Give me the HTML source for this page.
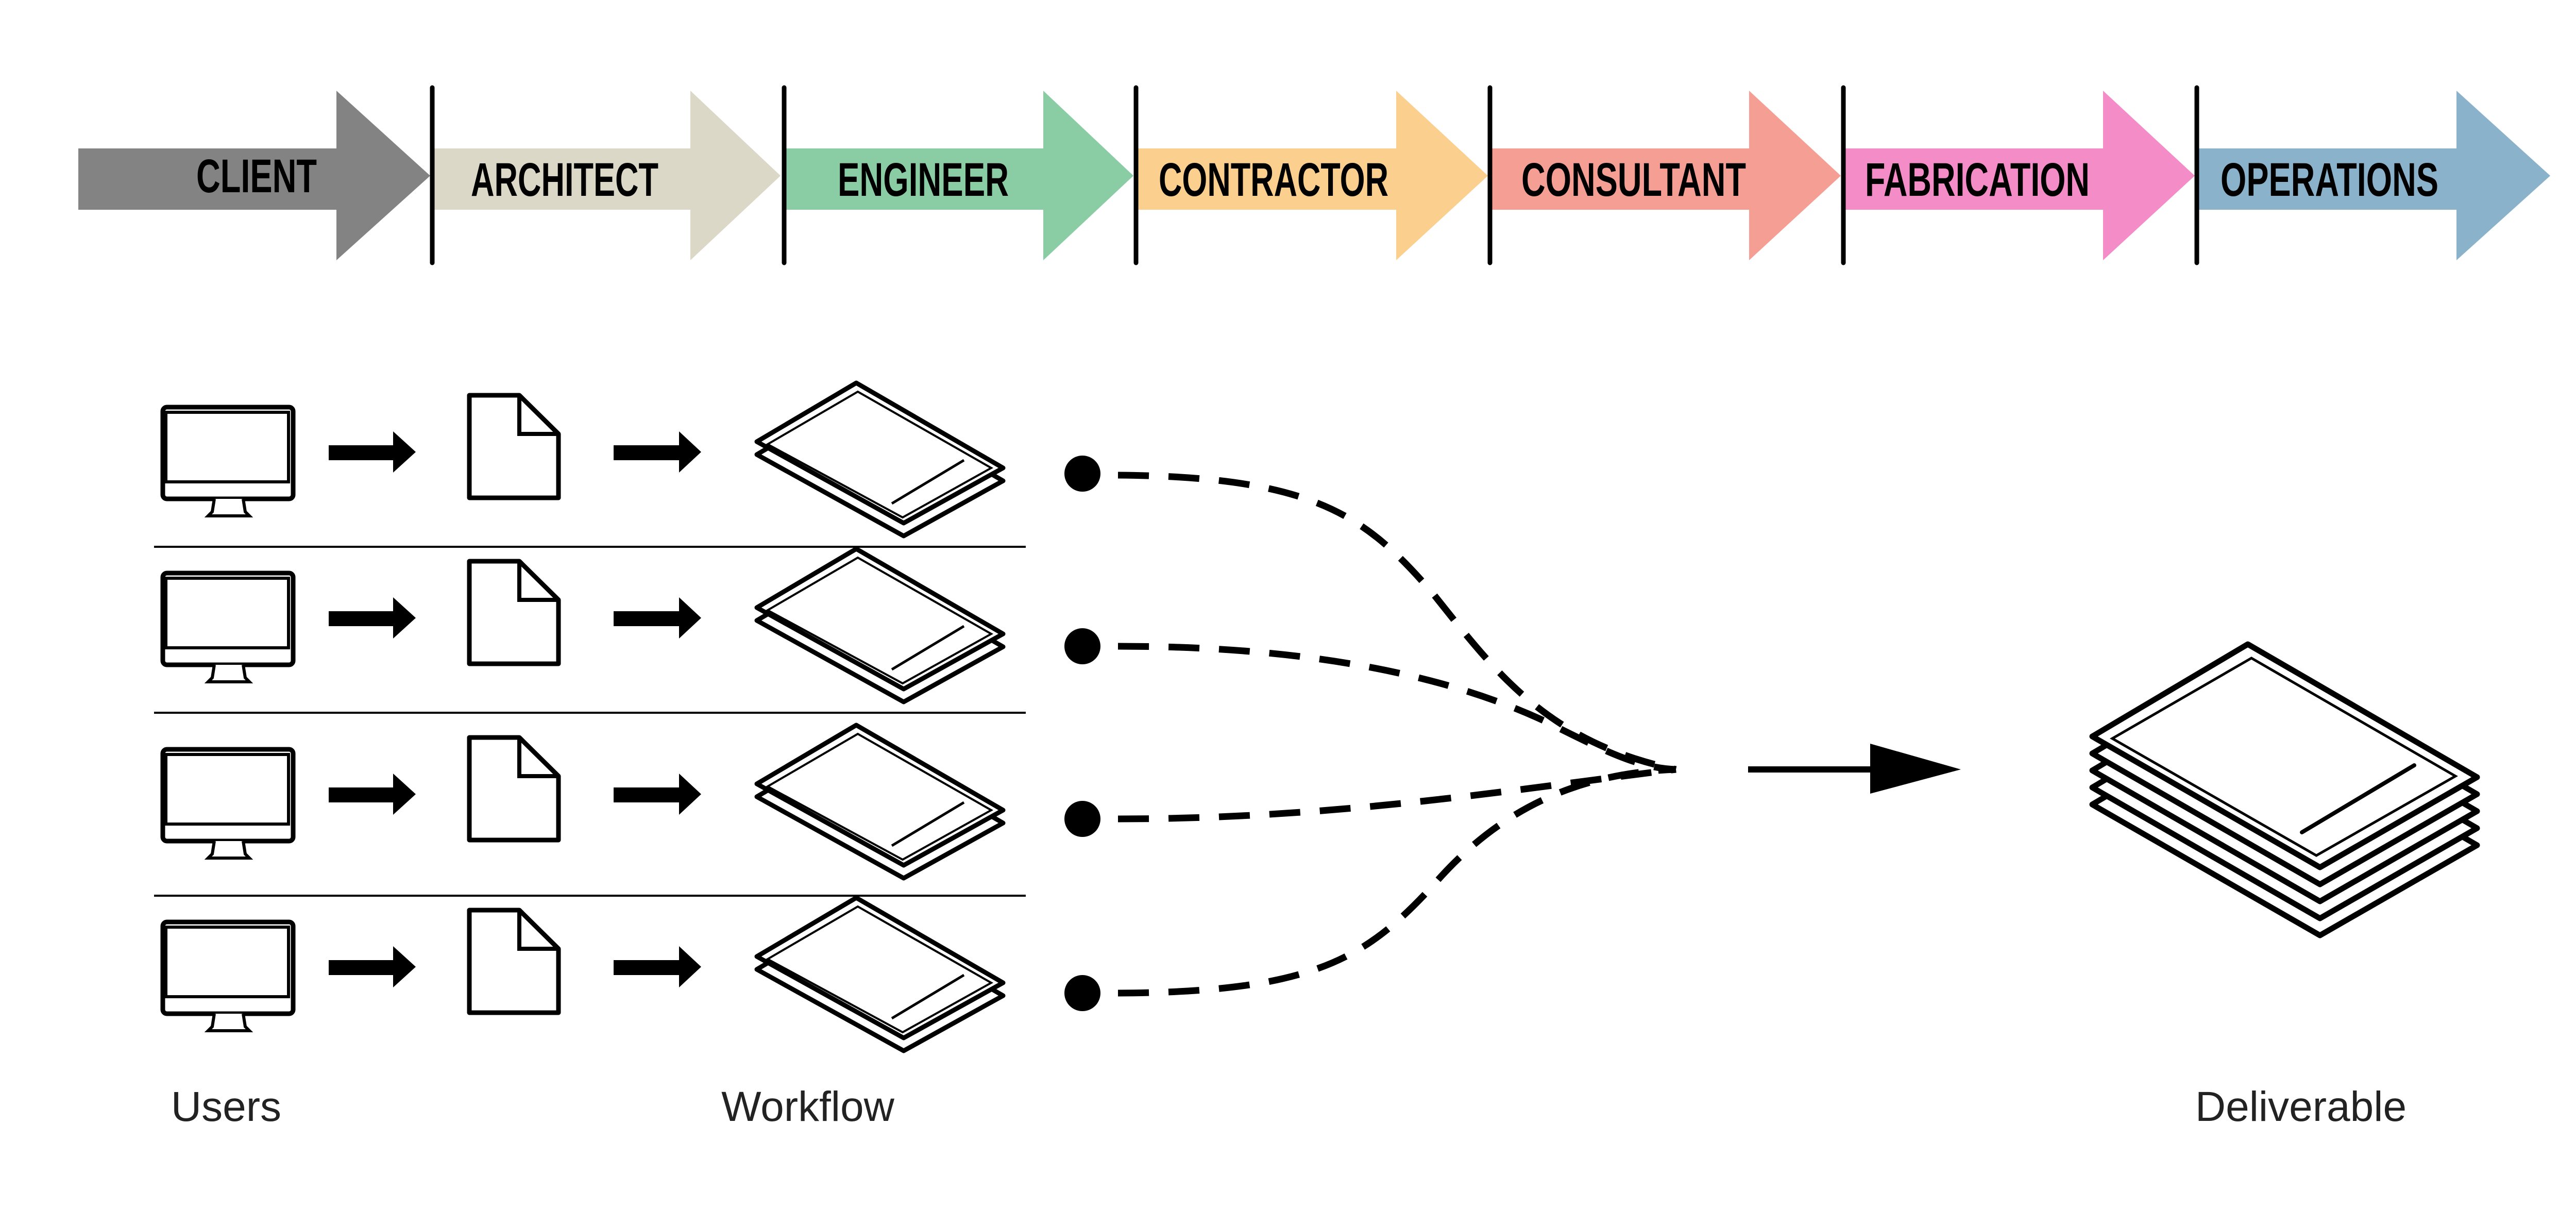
<!DOCTYPE html>
<html><head><meta charset="utf-8"><style>
html,body{margin:0;padding:0;background:#fff;}
svg{display:block;}
.lbl{font-family:"Liberation Sans Narrow","Liberation Sans",sans-serif;font-weight:bold;font-size:92px;fill:#000;}
.cap{font-family:"Liberation Sans Narrow","Liberation Sans",sans-serif;font-size:82px;fill:#222;}
</style></head><body>
<svg width="5100" height="2344" viewBox="0 0 5100 2344" xmlns="http://www.w3.org/2000/svg">
<defs>
<g id="row">
  <!-- monitor -->
  <rect x="316" y="790" width="253" height="178" rx="8" fill="#fff" stroke="#000" stroke-width="9"/>
  <rect x="322" y="800" width="238" height="135" fill="none" stroke="#000" stroke-width="6"/>
  <path d="M416 968 L412 993 L404 1001 L484 1001 L476 993 L472 968" fill="#fff" stroke="#000" stroke-width="6"/>
  <!-- arrow 1 -->
  <path d="M638 864 L763 864 L763 837 L807 877 L763 917 L763 893 L638 893 Z" fill="#000"/>
  <!-- document -->
  <path d="M911 767 L1008 767 L1084 842 L1084 966 L911 966 Z" fill="#fff" stroke="#000" stroke-width="9" stroke-linejoin="round"/>
  <path d="M1008 767 L1008 842 L1084 842" fill="none" stroke="#000" stroke-width="8"/>
  <!-- arrow 2 -->
  <path d="M1191 864 L1318 864 L1318 837 L1361 877 L1318 917 L1318 893 L1191 893 Z" fill="#000"/>
  <!-- sheets -->
  <path d="M1662 768 L1469 882 L1754 1040 L1947 933 Z" fill="#fff" stroke="#000" stroke-width="9" stroke-linejoin="round"/>
  <path d="M1662 743 L1469 857 L1754 1015 L1947 908 Z" fill="#fff" stroke="#000" stroke-width="9" stroke-linejoin="round"/>
  <path d="M1665 760 L1490 862 L1752 1004 L1924 908 Z" fill="none" stroke="#000" stroke-width="4"/>
  <path d="M1731 977 L1871 893" stroke="#000" stroke-width="5"/>
</g>
<g id="dsheet">
  <path d="M4363 1250 L4061 1429 L4503 1683 L4808 1508 Z" fill="#fff" stroke="#000" stroke-width="11" stroke-linejoin="round"/>
</g>
</defs>

<!-- top process arrows -->
<path d="M152 288 L653 288 L653 176 L835 341 L653 505 L653 407 L152 407 Z" fill="#828382"/>
<path d="M839 288 L1340 288 L1340 176 L1515 341 L1340 505 L1340 407 L839 407 Z" fill="#dcd8c8"/>
<path d="M1522 288 L2025 288 L2025 176 L2200 341 L2025 505 L2025 407 L1522 407 Z" fill="#8acda4"/>
<path d="M2205 288 L2710 288 L2710 176 L2888 341 L2710 505 L2710 407 L2205 407 Z" fill="#fbd08e"/>
<path d="M2892 288 L3395 288 L3395 176 L3573 341 L3395 505 L3395 407 L2892 407 Z" fill="#f59e94"/>
<path d="M3578 288 L4082 288 L4082 176 L4260 341 L4082 505 L4082 407 L3578 407 Z" fill="#f48cc8"/>
<path d="M4264 288 L4768 288 L4768 176 L4950 341 L4768 505 L4768 407 L4264 407 Z" fill="#8ab3cb"/>
<g stroke="#000" stroke-width="9" stroke-linecap="round">
<line x1="839" y1="170" x2="839" y2="510"/>
<line x1="1522" y1="170" x2="1522" y2="510"/>
<line x1="2205" y1="170" x2="2205" y2="510"/>
<line x1="2892" y1="170" x2="2892" y2="510"/>
<line x1="3578" y1="170" x2="3578" y2="510"/>
<line x1="4264" y1="170" x2="4264" y2="510"/>
</g>
<text class="lbl" x="381" y="373" textLength="234" lengthAdjust="spacingAndGlyphs">CLIENT</text>
<text class="lbl" x="914" y="380" textLength="364" lengthAdjust="spacingAndGlyphs">ARCHITECT</text>
<text class="lbl" x="1626" y="380" textLength="332" lengthAdjust="spacingAndGlyphs">ENGINEER</text>
<text class="lbl" x="2249" y="380" textLength="446" lengthAdjust="spacingAndGlyphs">CONTRACTOR</text>
<text class="lbl" x="2953" y="380" textLength="436" lengthAdjust="spacingAndGlyphs">CONSULTANT</text>
<text class="lbl" x="3620" y="380" textLength="436" lengthAdjust="spacingAndGlyphs">FABRICATION</text>
<text class="lbl" x="4310" y="380" textLength="423" lengthAdjust="spacingAndGlyphs">OPERATIONS</text>

<!-- rows -->
<use href="#row"/>
<use href="#row" transform="translate(0,322)"/>
<use href="#row" transform="translate(0,664)"/>
<use href="#row" transform="translate(0,999)"/>
<g stroke="#000" stroke-width="4">
<line x1="299" y1="1061" x2="1991" y2="1061"/>
<line x1="299" y1="1383" x2="1991" y2="1383"/>
<line x1="299" y1="1738" x2="1991" y2="1738"/>
</g>

<!-- dots -->
<g fill="#000">
<circle cx="2101" cy="919" r="35"/>
<circle cx="2101" cy="1254" r="35"/>
<circle cx="2101" cy="1589" r="35"/>
<circle cx="2101" cy="1927" r="35"/>
</g>
<!-- dashed curves -->
<g fill="none" stroke="#000" stroke-width="13" stroke-dasharray="60 38">
<path d="M2170 922 C2550 925 2650 1000 2780 1150 C2900 1300 3000 1440 3253 1493"/>
<path d="M2170 1254 C2600 1254 2850 1330 3000 1400 C3120 1460 3180 1490 3253 1493"/>
<path d="M2170 1589 C2600 1589 2950 1530 3253 1493"/>
<path d="M2170 1927 C2550 1925 2650 1860 2780 1720 C2900 1580 3050 1500 3253 1493"/>
</g>
<line x1="3393" y1="1493" x2="3640" y2="1493" stroke="#000" stroke-width="12"/>
<path d="M3630 1443 L3806 1493 L3630 1540 Z" fill="#000"/>

<!-- deliverable stack -->
<use href="#dsheet" transform="translate(0,132)"/>
<use href="#dsheet" transform="translate(0,99)"/>
<use href="#dsheet" transform="translate(0,66)"/>
<use href="#dsheet" transform="translate(0,33)"/>
<use href="#dsheet"/>
<path d="M4370 1277 L4100 1433 L4496 1660 L4766 1506 Z" fill="none" stroke="#000" stroke-width="5"/>
<path d="M4468 1615 L4686 1485" stroke="#000" stroke-width="8" stroke-linecap="round"/>

<!-- captions -->
<text class="cap" x="439" y="2175" text-anchor="middle">Users</text>
<text class="cap" x="1568" y="2175" text-anchor="middle">Workflow</text>
<text class="cap" x="4466" y="2175" text-anchor="middle">Deliverable</text>
</svg>
</body></html>
